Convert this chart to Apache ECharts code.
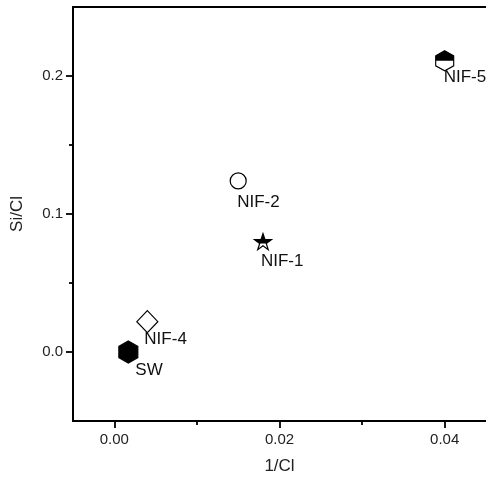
<!DOCTYPE html>
<html>
<head>
<meta charset="utf-8">
<script src="https://cdn.jsdelivr.net/npm/echarts@6/dist/echarts.min.js"></script>
<style>
  html, body { margin: 0; padding: 0; background: #fff; }
  #chart { width: 486px; height: 486px; }
</style>
</head>
<body>
<div id="chart"></div>
<script>
// data
const sampleNames = ['SW', 'NIF-4', 'NIF-2', 'NIF-1', 'NIF-5']
const invCl = [0.0017, 0.004, 0.015, 0.018, 0.040]
const siCl = [0.0, 0.022, 0.124, 0.080, 0.211]
const xTickValues = [0, 0.02, 0.04]
const xMinorValues = [0.01, 0.03]
const yTickValues = [0, 0.1, 0.2]
const yMinorValues = [0.05, 0.15]

// marker shapes
const HEX = 'path://M50,0L93.3,25L93.3,75L50,100L6.7,75L6.7,25Z'
const HEX_TOP = 'path://M50,0L93.3,25L93.3,50L6.7,50L6.7,25Z'
const STAR = 'path://M50,0L61.2,34.5L97.6,34.5L68.2,55.9L79.4,90.5L50,69.1L20.6,90.5L31.8,55.9L2.4,34.5L38.8,34.5Z'
const STAR_TOP = 'path://M50,0L61.2,34.5L97.6,34.5L68.2,55.9L31.8,55.9L2.4,34.5L38.8,34.5Z'

const markerStyle = {
  'SW':    { symbol: HEX, size: [19, 22], fill: '#000', label: [7, 18] },
  'NIF-4': { symbol: 'diamond', size: [21, 22], fill: '#fff', label: [-3, 18] },
  'NIF-2': { symbol: 'circle', size: [16, 16], fill: '#fff', label: [-1, 21] },
  'NIF-1': { symbol: STAR, size: [17, 16], fill: '#fff', label: [-2, 20], half: STAR_TOP, halfRatio: 0.618, halfShift: -0.191 },
  'NIF-5': { symbol: HEX, size: [18, 20], fill: '#fff', label: [-1, 16], half: HEX_TOP, halfRatio: 0.5, halfShift: -0.25 }
}

const font = 'Liberation Sans, Arial, sans-serif'

const outlineData = sampleNames.map((name, i) => {
  const s = markerStyle[name]
  return {
    name,
    value: [invCl[i], siCl[i]],
    symbol: s.symbol,
    symbolSize: s.size,
    itemStyle: { color: s.fill, borderColor: '#000', borderWidth: 1.2, opacity: 1 },
    label: {
      show: true, formatter: '{b}', position: 'inside', align: 'left', verticalAlign: 'middle',
      offset: s.label, fontSize: 17, color: '#111', fontFamily: font
    }
  }
})

const halfData = []
sampleNames.forEach((name, i) => {
  const s = markerStyle[name]
  if (!s.half) return
  halfData.push({
    name,
    value: [invCl[i], siCl[i]],
    symbol: s.half,
    symbolSize: [s.size[0], s.size[1] * s.halfRatio],
    symbolOffset: [0, s.size[1] * s.halfShift],
    itemStyle: { color: '#000', borderWidth: 0, opacity: 1 }
  })
})

const gridBox = { left: 73, right: 0, top: 7, bottom: 65 }
const axisLine = { show: true, onZero: false, lineStyle: { color: '#000', width: 2 } }
const tickLine = { color: '#000', width: 1.8 }

const option = {
  animation: false,
  grid: [Object.assign({}, gridBox), Object.assign({}, gridBox)],
  xAxis: [
    {
      type: 'value', gridIndex: 0, position: 'bottom', min: -0.005, max: 0.045,
      name: '1/Cl', nameLocation: 'middle', nameGap: 37,
      nameTextStyle: { fontSize: 17, color: '#222', fontFamily: font },
      axisLine,
      axisTick: { show: true, length: 7, customValues: xTickValues, lineStyle: tickLine },
      axisLabel: { customValues: xTickValues, formatter: v => v.toFixed(2), fontSize: 15, color: '#222', fontFamily: font, margin: 11 },
      splitLine: { show: false }
    },
    {
      type: 'value', gridIndex: 0, position: 'top', min: -0.005, max: 0.045,
      axisLine, axisTick: { show: false }, axisLabel: { show: false }, splitLine: { show: false }
    },
    {
      type: 'value', gridIndex: 1, position: 'bottom', min: -0.005, max: 0.045,
      axisLine: { show: false, onZero: false },
      axisTick: { show: true, length: 4, customValues: xMinorValues, lineStyle: tickLine },
      axisLabel: { show: false }, splitLine: { show: false }
    }
  ],
  yAxis: [
    {
      type: 'value', gridIndex: 0, position: 'left', min: -0.05, max: 0.25,
      name: 'Si/Cl', nameLocation: 'middle', nameGap: 47,
      nameTextStyle: { fontSize: 17, color: '#222', fontFamily: font },
      axisLine,
      axisTick: { show: true, length: 7, customValues: yTickValues, lineStyle: tickLine },
      axisLabel: { customValues: yTickValues, formatter: v => v.toFixed(1), fontSize: 15, color: '#222', fontFamily: font, margin: 10 },
      splitLine: { show: false }
    },
    {
      type: 'value', gridIndex: 1, position: 'left', min: -0.05, max: 0.25,
      axisLine: { show: false, onZero: false },
      axisTick: { show: true, length: 4, customValues: yMinorValues, lineStyle: tickLine },
      axisLabel: { show: false }, splitLine: { show: false }
    }
  ],
  series: [
    { type: 'scatter', xAxisIndex: 0, yAxisIndex: 0, data: outlineData, z: 2 },
    { type: 'scatter', xAxisIndex: 0, yAxisIndex: 0, data: halfData, z: 3, silent: true }
  ]
}

const chart = echarts.init(document.getElementById('chart'))
chart.setOption(option)
window.addEventListener('resize', () => { chart.resize() })
</script>
</body>
</html>
